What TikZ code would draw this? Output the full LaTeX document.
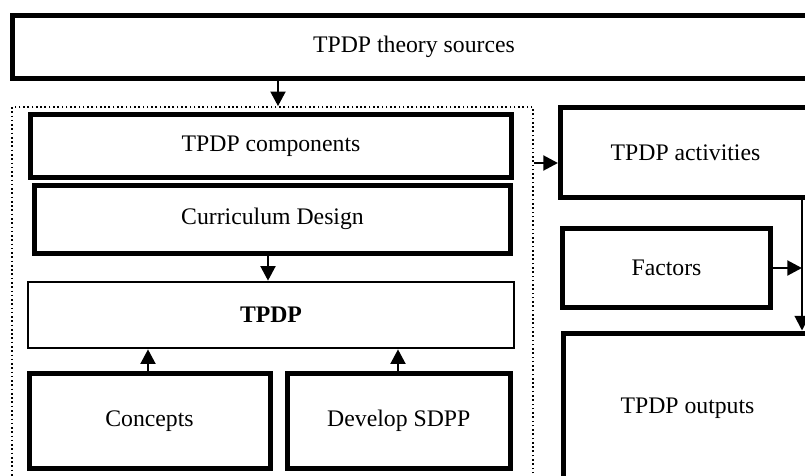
\documentclass[tikz,border=0pt]{standalone}
\usepackage{fontspec}
\setmainfont{Liberation Serif}
\usetikzlibrary{arrows.meta}
\begin{document}
\begin{tikzpicture}[x=0.75pt,y=-0.75pt,
  box/.style={draw=black,line width=3.75pt,fill=white,inner sep=0pt,
    font=\fontsize{17.8}{21}\selectfont},
  thinbox/.style={box,line width=1.9pt},
  frame/.style={draw=black,line width=1.2pt,dotted,inner sep=0pt},
  arr/.style={line width=2.2pt,-{Triangle[length=11pt,width=11pt]}},
  thinarr/.style={arr,line width=1.6pt}]
\useasboundingbox (0,0) rectangle (805,475);
\clip (0,0) rectangle (805,475);

% dotted frame grouping the curriculum blocks
\node[frame,minimum width=390.75pt,minimum height=287.25pt] (grp) at (272.5,298.5) {};

% boxes
\node[box,minimum width=603pt,minimum height=47.25pt] (src) at (414,47) {TPDP theory sources};
\node[box,minimum width=360.75pt,minimum height=47.25pt] (comp) at (271,146) {TPDP components};
\node[box,minimum width=357pt,minimum height=50.625pt] (cur) at (272.5,219.25) {Curriculum Design};
\node[thinbox,minimum width=364.5pt,minimum height=49.5pt] (tpdp) at (271,315) {\textbf{TPDP}};
\node[box,minimum width=180.75pt,minimum height=71.625pt] (con) at (149.5,420.75) {Concepts};
\node[box,minimum width=167.625pt,minimum height=71.625pt] (dev) at (398.75,420.75) {Develop SDPP};
\node[box,minimum width=187.5pt,minimum height=67.5pt] (act) at (685.5,152.5) {TPDP activities};
\node[box,minimum width=156pt,minimum height=59.25pt] (fac) at (666.5,268) {Factors};
\node[box,minimum width=186pt,minimum height=112.5pt] (out) at (687.5,408) {TPDP outputs};

% guide coordinates for the connectors
\coordinate (xsrc) at (278,0);
\coordinate (ygrp) at (0,163);
\coordinate (xcur) at (268,0);
\coordinate (xcon) at (148,0);
\coordinate (xdev) at (398,0);
\coordinate (xv) at (802,0);

% connectors
\draw[arr] (src.south -| xsrc) -- (grp.north -| xsrc);
\draw[arr] (grp.east |- ygrp) -- (act.west |- ygrp);
\draw[arr] (cur.south -| xcur) -- (tpdp.north -| xcur);
\draw[arr] (con.north -| xcon) -- (tpdp.south -| xcon);
\draw[arr] (dev.north -| xdev) -- (tpdp.south -| xdev);
\draw[thinarr] (act.south -| xv) -- (out.north -| xv);
\draw[arr] (fac.east) -- (fac.east -| xv);
\end{tikzpicture}
\end{document}
